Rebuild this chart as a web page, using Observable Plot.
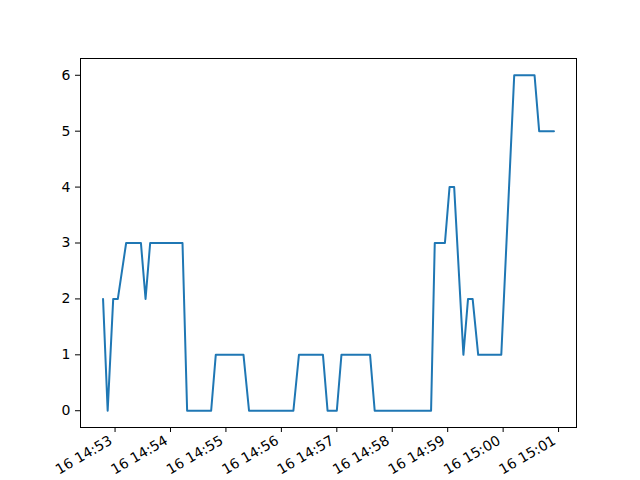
<!DOCTYPE html>
<html>
<head>
<meta charset="utf-8">
<script src="https://cdn.jsdelivr.net/npm/d3@7"></script>
<script src="https://cdn.jsdelivr.net/npm/@observablehq/plot@0.6"></script>
<style>
  html, body { margin: 0; padding: 0; background: #fff; }
</style>
</head>
<body>
<div id="chart"></div>
<script>
const day = "2023-01-16";
const times = [
  "14:52:47","14:52:52","14:52:58","14:53:03","14:53:12","14:53:28","14:53:33","14:53:38",
  "14:54:13","14:54:18","14:54:44","14:54:49","14:55:19","14:55:25","14:56:13","14:56:19",
  "14:56:45","14:56:50","14:57:00","14:57:05","14:57:36","14:57:41","14:58:42","14:58:46",
  "14:58:57","14:59:02","14:59:07","14:59:17","14:59:22","14:59:27","14:59:33","14:59:58",
  "15:00:12","15:00:34","15:00:39","15:00:55"
];
const values = [
  2,0,2,2,3,3,2,3,
  3,0,0,1,1,0,0,1,
  1,0,0,1,1,0,0,3,
  3,4,4,1,2,2,1,1,
  6,6,5,5
];
const yTicks = [0,1,2,3,4,5,6];

const data = times.map((t, i) => ({date: new Date(`${day}T${t}Z`), value: values[i]}));

const [x0, x1] = d3.extent(data, d => d.date);
const padX = (x1 - x0) * 0.05;
const [y0, y1] = d3.extent(data, d => d.value);
const padY = (y1 - y0) * 0.05;
const xTicks = d3.utcMinute.every(1);

const chart = Plot.plot({
  width: 640,
  height: 480,
  marginLeft: 80,
  marginRight: 64,
  marginTop: 58,
  marginBottom: 53,
  style: {fontFamily: "DejaVu Sans", fontSize: "14px", color: "#000", background: "#fff"},
  x: {type: "utc", domain: [new Date(+x0 - padX), new Date(+x1 + padX)]},
  y: {domain: [y0 - padY, y1 + padY]},
  marks: [
    Plot.frame({stroke: "#000", strokeWidth: 1}),
    Plot.axisY({ticks: yTicks, tickSize: 5, tickPadding: 5, tickFormat: d => String(d), label: null, fontSize: 14}),
    Plot.axisX({ticks: xTicks, tickSize: 5, tickFormat: () => "", label: null}),
    Plot.axisX({ticks: xTicks, tickSize: 0, tickPadding: 12, tickRotate: -30, dx: -4,
      tickFormat: d3.utcFormat("%d %H:%M"), label: null, fontSize: 14}),
    Plot.line(data, {x: "date", y: "value", stroke: "#1f77b4", strokeWidth: 2, strokeLinejoin: "round"})
  ]
});
document.getElementById("chart").appendChild(chart);
</script>
</body>
</html>
